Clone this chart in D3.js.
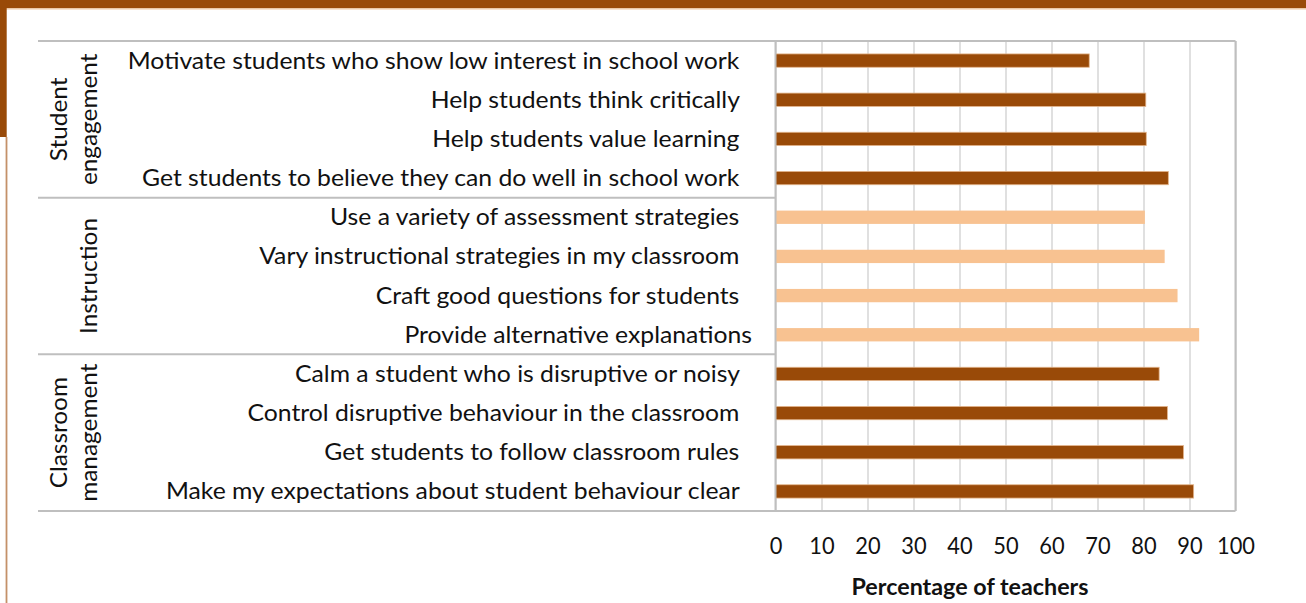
<!DOCTYPE html>
<html>
<head>
<meta charset="utf-8">
<script src="https://cdn.jsdelivr.net/npm/d3@7"></script>
<style>
  html, body { margin: 0; padding: 0; background: #fff; overflow: hidden; }
  svg { display: block; }
  text { font-family: Lato, "Open Sans", sans-serif; white-space: pre; fill: #111; }
</style>
</head>
<body>
<svg id="chart" width="1306" height="603"></svg>
<script>
// Self-efficacy items, top to bottom, grouped by domain
const categories = [
  "Motivate students who show low interest in school work",
  "Help students think critically",
  "Help students value learning",
  "Get students to believe they can do well in school work",
  "Use a variety of assessment strategies",
  "Vary instructional strategies in my classroom",
  "Craft good questions for students",
  "Provide alternative explanations",
  "Calm a student who is disruptive or noisy",
  "Control disruptive behaviour in the classroom",
  "Get students to follow classroom rules",
  "Make my expectations about student behaviour clear"
];
// Trailing blanks carried by the item labels
const labelPadding = [2, 2, 2, 2, 2, 2, 2, 0, 2, 2, 2, 2];
// Percentage of teachers reporting "quite a bit" / "a lot"
const values = [68.2, 80.5, 80.6, 85.4, 80.3, 84.6, 87.4, 92.1, 83.4, 85.2, 88.7, 90.9];
const groupIndex = [0, 0, 0, 0, 1, 1, 1, 1, 2, 2, 2, 2];
const groupLabels = [["Student", "engagement"], ["Instruction"], ["Classroom", "management"]];
const groupColors = ["#994a08", "#f8c291", "#994a08"];
const xTicks = [0, 10, 20, 30, 40, 50, 60, 70, 80, 90, 100];
const xTitle = "Percentage of teachers";

const svg = d3.select("#chart");
const W = 1306, H = 603;
const plot = { left: 775.5, right: 1235.5, top: 41, bottom: 511 };
const tableLeft = 38;
const labelRight = 752;
const fontSize = 23.3;

// Page frame accents
svg.append("rect").attr("x", 0).attr("y", 0).attr("width", W).attr("height", 8.3).attr("fill", "#994a08");
svg.append("rect").attr("x", 0).attr("y", 8.3).attr("width", W).attr("height", 1.2).attr("fill", "#efc6a0");
svg.append("rect").attr("x", 0).attr("y", 0).attr("width", 6.7).attr("height", 137).attr("fill", "#994a08");
svg.append("rect").attr("x", 5.6).attr("y", 137).attr("width", 1.8).attr("height", H - 137).attr("fill", "#c49169");

const x = d3.scaleLinear().domain([0, 100]).range([plot.left, plot.right]);
const y = d3.scaleBand().domain(d3.range(categories.length)).range([plot.top, plot.bottom]).padding(0);
const step = y.step();
const barH = step * 0.34;

// Horizontal squeeze factors so the face fills the same widths as the narrower original face
function measure(str, weight) {
  const t = svg.append("text").style("font-size", fontSize + "px").style("font-weight", weight || "normal").text(str);
  const w = t.node().getComputedTextLength();
  t.remove();
  return w;
}
const sxLabel = 612 / measure(categories[0]);
const sxGroup = 116 / measure(groupLabels[1][0]);
const sxTick = 38 / measure(String(xTicks[xTicks.length - 1]));
const sxTitle = 237 / measure(xTitle, "bold");

function place(sel, tx, ty, sx, rot) {
  sel.attr("x", 0).attr("y", 0)
     .attr("transform", `translate(${tx},${ty})` + (rot ? ` rotate(${rot})` : "") + ` scale(${sx},1)`);
}

// Vertical gridlines
const grid = svg.append("g").attr("transform", `translate(0,${plot.bottom})`)
  .call(d3.axisBottom(x).tickValues(xTicks).tickSize(-(plot.bottom - plot.top)).tickFormat(""));
grid.select(".domain").remove();
grid.selectAll(".tick line").attr("stroke", "#d9d9d9").attr("stroke-width", 1.6);

// Table lines: top, group separators, bottom
const sepRows = [0, 4, 8];
svg.append("line").attr("x1", tableLeft).attr("x2", plot.right).attr("y1", plot.top).attr("y2", plot.top)
  .attr("stroke", "#bfbfbf").attr("stroke-width", 2);
svg.append("line").attr("x1", tableLeft).attr("x2", plot.right).attr("y1", plot.bottom).attr("y2", plot.bottom)
  .attr("stroke", "#bfbfbf").attr("stroke-width", 2);
sepRows.slice(1).forEach(r => {
  svg.append("line").attr("x1", tableLeft).attr("x2", plot.left).attr("y1", y(r)).attr("y2", y(r))
    .attr("stroke", "#bfbfbf").attr("stroke-width", 2);
});
svg.append("line").attr("x1", plot.right).attr("x2", plot.right).attr("y1", plot.top).attr("y2", plot.bottom)
  .attr("stroke", "#bfbfbf").attr("stroke-width", 2);

// Bars
svg.append("g").selectAll("rect").data(values).join("rect")
  .attr("x", x(0))
  .attr("y", (d, i) => y(i) + step / 2 - barH / 2)
  .attr("width", d => x(d) - x(0))
  .attr("height", barH)
  .attr("fill", (d, i) => groupColors[groupIndex[i]])
  .attr("stroke", (d, i) => groupIndex[i] === 1 ? "none" : "#e3b58c")
  .attr("stroke-width", 0.8);

// Category axis line
svg.append("line").attr("x1", plot.left).attr("x2", plot.left).attr("y1", plot.top).attr("y2", plot.bottom)
  .attr("stroke", "#bfbfbf").attr("stroke-width", 2);

// Item labels
svg.append("g").selectAll("text").data(categories).join("text")
  .style("font-size", fontSize + "px")
  .attr("text-anchor", "end")
  .text((d, i) => d + " ".repeat(labelPadding[i]))
  .each(function (d, i) {
    place(d3.select(this), labelRight, y(i) + step / 2 + fontSize * 0.345, sxLabel);
  });

// Group labels, rotated
groupLabels.forEach((lines, g) => {
  const rows = d3.range(categories.length).filter(i => groupIndex[i] === g);
  const cy = (y(rows[0]) + y(rows[rows.length - 1]) + step) / 2;
  lines.forEach((line, k) => {
    const bx = 97 - (lines.length - 1 - k) * 30;
    const t = svg.append("text").style("font-size", fontSize + "px").attr("text-anchor", "middle").text(line);
    place(t, bx, cy, sxGroup, -90);
  });
});

// Value axis tick labels
const xAxis = svg.append("g").attr("transform", `translate(0,${plot.bottom})`)
  .call(d3.axisBottom(x).tickValues(xTicks).tickSize(0).tickFormat(d3.format("d")));
xAxis.select(".domain").remove();
xAxis.selectAll(".tick text")
  .style("font-size", fontSize + "px")
  .attr("dy", null)
  .attr("fill", "#111")
  .each(function () { place(d3.select(this), 0, 554 - plot.bottom, sxTick); });

// Value axis title
const title = svg.append("text").style("font-size", fontSize + "px").style("font-weight", "bold")
  .attr("text-anchor", "middle").text(xTitle);
place(title, 970, 595, sxTitle);
</script>
</body>
</html>
